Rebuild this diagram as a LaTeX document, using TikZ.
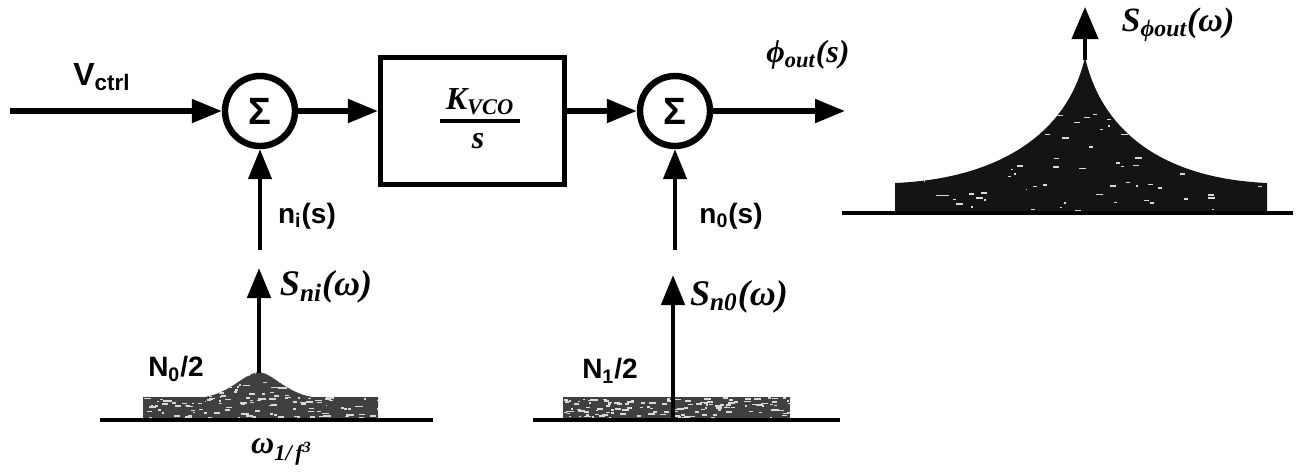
\documentclass[tikz,border=0pt]{standalone}
\usepackage{fontspec}
\setmainfont{Liberation Serif}
\newfontfamily\lsans{Liberation Sans}
\usetikzlibrary{arrows.meta}
\newcommand{\speckle}[5]{% x0 y0 w h count
  \foreach \k in {1,...,#5}{%
    \pgfmathsetmacro\xx{#1+rnd*#3}%
    \pgfmathsetmacro\yy{#2+rnd*#4}%
    \pgfmathsetmacro\ww{1.5+rnd*6}%
    \fill[white!85!black] (\xx,\yy) rectangle ++(\ww,1.6);}}
\begin{document}
\begin{tikzpicture}[x=0.5pt,y=-0.5pt,
  sig/.style={line width=2.6pt},
  thin sig/.style={line width=2.2pt},
  tip/.style={-{Triangle[length=15pt,width=11.5pt]}},
  sumnode/.style={circle,draw,line width=3.2pt,minimum size=35pt,inner sep=0pt,
    font=\lsans\bfseries\fontsize{19}{19}\selectfont},
  slab/.style={font=\lsans\bfseries\fontsize{14}{14}\selectfont,inner sep=0pt},
  mlab/.style={font=\bfseries\itshape\fontsize{16}{16}\selectfont,inner sep=0pt},
  noise/.style={fill=black!75},
  bignoise/.style={fill=black!92},
  axis/.style={line width=2.4pt},
]
\useasboundingbox (0,0) rectangle (1305,473);
\pgfmathsetseed{4242}
% blocks
\node[sumnode] (s1) at (260,111) {Σ};
\node[draw,line width=2.6pt,minimum width=92pt,minimum height=63.5pt,inner sep=0pt] (vco) at (472.5,121) {};
\node[font=\bfseries\itshape\fontsize{16}{16}\selectfont,inner sep=0pt] (kv) at (480,102) {K\textsubscript{VCO}};
\node[font=\bfseries\itshape\fontsize{16}{16}\selectfont,inner sep=0pt] (ks) at (478,141) {s};
\draw[line width=1.6pt] (440,121) -- (520,121);
\node[sumnode] (s2) at (675,111) {Σ};
\coordinate (in) at (10,111);
\coordinate (out) at (845,111);
\coordinate (ni) at (260,250);
\coordinate (no) at (675,250);
% connectors
\draw[sig,tip] (in) -- (s1.west);
\draw[sig,tip] (s1.east) -- (vco.west |- s1.east);
\draw[sig,tip] (vco.east |- s2.west) -- (s2.west);
\draw[sig,tip] (s2.east) -- (out);
\draw[thin sig,tip] (ni) -- (s1.south);
\draw[thin sig,tip] (no) -- (s2.south);
% labels
\node[font=\lsans\bfseries\fontsize{16}{16}\selectfont,inner sep=0pt] (vl) at (102,77) {V\textsubscript{ctrl}};
\node[mlab] (phl) at (808,55) {ϕ\textsubscript{out}(s)};
\node[slab] (nil) at (307,216) {n\textsubscript{i}(s)};
\node[slab] (nol) at (731,216) {n\textsubscript{0}(s)};
% left spectrum
\begin{scope}
\path[clip] (143,420) -- (143,397) -- (205,397) .. controls (232,392) and (243,374) .. (259,372)
  .. controls (274,374) and (285,392) .. (312,397) -- (378,397) -- (378,420) -- cycle;
\fill[noise] (140,360) rectangle (380,420);
\speckle{143}{370}{235}{50}{230}
\end{scope}
\draw[axis] (100,420) -- (433,420);
\coordinate (a1b) at (259,373);
\coordinate (a1t) at (259,268);
\draw[axis,tip] (a1b) -- (a1t);
\node[mlab,font=\bfseries\itshape\fontsize{18}{18}\selectfont] (snil) at (326,287) {S\textsubscript{ni}(ω)};
\node[slab] (n0l) at (176,369) {N\textsubscript{0}/2};
\node[mlab] (wl) at (282,452) {ω\textsubscript{1/\,f\textsuperscript{3}}};
% middle spectrum
\begin{scope}
\path[clip] (563,397) rectangle (790,420);
\fill[noise] (563,397) rectangle (790,420);
\speckle{563}{397}{227}{23}{150}
\end{scope}
\draw[axis] (533,420) -- (840,420);
\coordinate (a2b) at (673,420);
\coordinate (a2t) at (673,275);
\draw[axis,tip] (a2b) -- (a2t);
\node[mlab,font=\bfseries\itshape\fontsize{18}{18}\selectfont] (sn0l) at (739,297) {S\textsubscript{n0}(ω)};
\node[slab] (n1l) at (610,371) {N\textsubscript{1}/2};
% right spectrum
\begin{scope}
\path[clip] (895,213) -- (895,183) .. controls (1010,178) and (1070,125) .. (1085,57)
  .. controls (1100,125) and (1155,178) .. (1267,183) -- (1267,213) -- cycle;
\fill[bignoise] (890,50) rectangle (1270,213);
\speckle{900}{110}{365}{100}{90}
\end{scope}
\draw[axis] (842,213) -- (1293,213);
\coordinate (a3b) at (1085,60);
\coordinate (a3t) at (1085,7);
\draw[line width=2pt,-{Triangle[length=16pt,width=13pt]}] (a3b) -- (a3t);
\node[mlab,font=\bfseries\itshape\fontsize{17}{17}\selectfont] (sphl) at (1178,25) {S\textsubscript{ϕout}(ω)};
\end{tikzpicture}
\end{document}
